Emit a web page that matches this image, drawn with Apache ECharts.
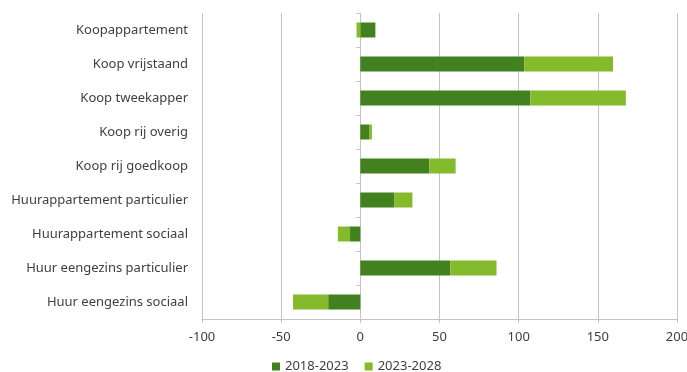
<!DOCTYPE html>
<html>
<head>
<meta charset="utf-8">
<script src="https://cdn.jsdelivr.net/npm/echarts@6/dist/echarts.min.js"></script>
<style>
  html, body { margin: 0; padding: 0; background: #fff; }
  #chart { width: 687px; height: 372px; }
</style>
</head>
<body>
<div id="chart"></div>
<script>
// Categories, top to bottom as drawn
const categories = [
  "Koopappartement",
  "Koop vrijstaand",
  "Koop tweekapper",
  "Koop rij overig",
  "Koop rij goedkoop",
  "Huurappartement particulier",
  "Huurappartement sociaal",
  "Huur eengezins particulier",
  "Huur eengezins sociaal"
];
const period1 = [9.5, 103.6, 107.4, 5.5, 43.5, 21.6, -6.5, 56.9, -20.3];
const period2 = [-2.4, 56, 60.3, 1.8, 16.7, 11.3, -7.7, 29.1, -22.2];
const seriesNames = ["2018-2023", "2023-2028"];
const seriesColors = ["#43801f", "#84bb2d"];

const chart = echarts.init(document.getElementById("chart"));

const font = "'Noto Sans', sans-serif";
const textColor = "#404040";
const lineColor = "#c4c4c4";

chart.setOption({
  animation: false,
  textStyle: { fontFamily: font },
  grid: { left: 202, right: 10, top: 13, bottom: 53, outerBoundsMode: "none" },
  legend: {
    data: seriesNames,
    left: 267,
    top: 355,
    itemWidth: 8,
    itemHeight: 8,
    itemGap: 16,
    icon: "rect",
    textStyle: { color: textColor, fontSize: 13, fontFamily: font }
  },
  xAxis: {
    type: "value",
    min: -100,
    max: 200,
    interval: 50,
    axisLine: { show: true, onZero: false, lineStyle: { color: lineColor } },
    axisTick: { show: true, length: 4, lineStyle: { color: lineColor } },
    axisLabel: { color: textColor, fontSize: 13, margin: 12 },
    splitLine: { show: true, lineStyle: { color: lineColor } }
  },
  yAxis: [
    {
      type: "category",
      data: categories,
      inverse: true,
      axisLine: { show: false, onZero: false },
      axisTick: { show: false },
      axisLabel: { color: textColor, fontSize: 13, margin: 14 }
    },
    {
      // axis at zero, only for the small category ticks
      type: "category",
      data: categories,
      inverse: true,
      position: "left",
      z: 0,
      axisLine: { show: true, onZero: true, onZeroAxisIndex: 0, lineStyle: { color: lineColor } },
      axisTick: { show: true, length: 4, lineStyle: { color: lineColor } },
      axisLabel: { show: false }
    }
  ],
  series: [
    {
      name: seriesNames[0],
      type: "bar",
      stack: "total",
      data: period1,
      barWidth: 15,
      itemStyle: { color: seriesColors[0] }
    },
    {
      name: seriesNames[1],
      type: "bar",
      stack: "total",
      data: period2,
      barWidth: 15,
      itemStyle: { color: seriesColors[1] }
    }
  ]
});
</script>
</body>
</html>
